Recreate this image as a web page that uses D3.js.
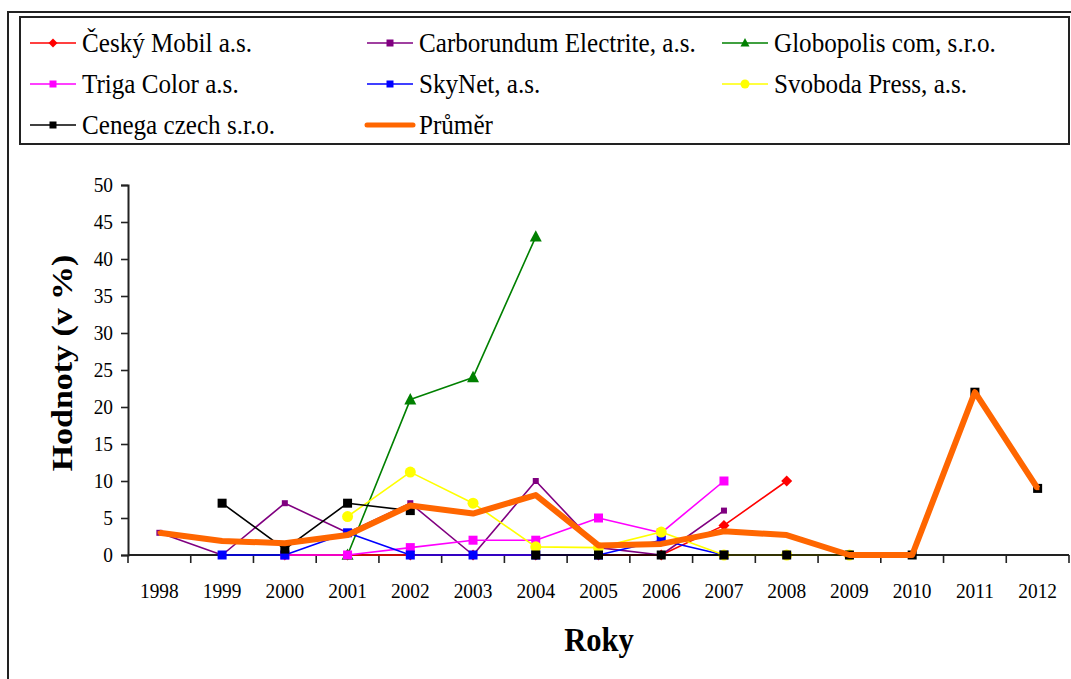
<!DOCTYPE html>
<html>
<head>
  <meta charset="UTF-8">
  <style>
    body { margin: 0; background: #fff; }
    svg { display: block; font-family: "Liberation Serif", "Times New Roman", serif; }
  </style>
</head>
<body>
<svg></svg>
<script src="https://d3js.org/d3.v7.min.js"></script>

<script>

let width = 1071, height = 679;

// data (null = no value that year)
let years = ["1998","1999","2000","2001","2002","2003","2004","2005","2006","2007","2008","2009","2010","2011","2012"];
let ceskyMobil  = [null,null,0,0,0,0,0,0,0,4,10,null,null,null,null];
let carborundum = [3,0,7,3,7,0,10,1,0,6,null,null,null,null,null];
let globopolis  = [null,null,null,0,21,24,43,null,null,null,null,null,null,null,null];
let triga       = [null,null,0,0,1,2,2,5,3,10,null,null,null,null,null];
let skynet      = [null,0,0,3,0,0,0,0,2,0,null,null,null,null,null];
let svoboda     = [null,null,null,5.2,11.2,7,1.1,1,3.1,0,0,0,null,null,null];
let cenega      = [null,7,0.8,7,6,null,0,0,0,0,0,0,0,22,9];
let prumer      = [3,1.9,1.6,2.7,6.7,5.6,8.1,1.3,1.5,3.2,2.7,0,0,22,9];
let yTicks = [0,5,10,15,20,25,30,35,40,45,50];

let series = [
  {name: "Český Mobil a.s.", values: ceskyMobil, color: "#ff0000", marker: "diamond", size: 11, width: 1.6},
  {name: "Carborundum Electrite, a.s.", values: carborundum, color: "#800080", marker: "square", size: 6, width: 1.6},
  {name: "Globopolis com, s.r.o.", values: globopolis, color: "#008000", marker: "triangle", size: 12, width: 1.6},
  {name: "Triga Color a.s.", values: triga, color: "#ff00ff", marker: "square", size: 9, width: 1.6},
  {name: "SkyNet, a.s.", values: skynet, color: "#0000ff", marker: "square", size: 9, width: 1.6},
  {name: "Svoboda Press, a.s.", values: svoboda, color: "#ffff00", marker: "circle", size: 11, width: 1.6},
  {name: "Cenega czech s.r.o.", values: cenega, color: "#000000", marker: "square", size: 9, width: 1.6},
  {name: "Průměr", values: prumer, color: "#ff6600", marker: "square", size: 3.5, width: 6}
];

let svg = d3.select("svg")
    .attr("width", width)
    .attr("height", height)
    .attr("viewBox", "0 0 " + width + " " + height);

// frames
svg.append("rect")
.attr("x", 8).attr("y", 12)
.attr("width", 1100).attr("height", 700)
.attr("fill", "none").attr("stroke", "#222").attr("stroke-width", 2);

svg.append("rect")
.attr("x", 20).attr("y", 17)
.attr("width", 1049).attr("height", 127)
.attr("fill", "none").attr("stroke", "#222").attr("stroke-width", 2);

let x = d3.scaleBand().domain(years).range([128, 1069]);
let y = d3.scaleLinear().domain([0, 50]).range([555, 185]);

// text helper: the reference is a bit squeezed horizontally
function label(g, tx, ty, txt, size, anchor, bold, sx) {
  return g.append("text")
  .attr("transform", "translate(" + tx + "," + ty + ") scale(" + (sx || 0.88) + ",1)")
  .attr("text-anchor", anchor)
  .attr("font-size", size + "px")
  .attr("font-weight", bold ? "bold" : "normal")
  .attr("fill", "#000")
  .text(txt);
}

// y axis
let yAxis = svg.append("g")
.attr("transform", "translate(128,0)")
.call(d3.axisLeft(y).tickValues(yTicks).tickSize(7).tickFormat(""));
yAxis.select(".domain").attr("stroke", "#222").attr("stroke-width", 2);
yAxis.selectAll(".tick line").attr("stroke", "#222").attr("stroke-width", 1.6);

yTicks.forEach(t => label(svg, 113, y(t) + 7, t, 22, "end"));

// x axis: ticks sit on the band boundaries
let xAxis = svg.append("g")
.attr("transform", "translate(0,555)");
xAxis.append("line")
.attr("x1", x.range()[0]).attr("x2", x.range()[1])
.attr("stroke", "#222").attr("stroke-width", 2);
let bounds = years.map(d => x(d)).concat([x.range()[1]]);
xAxis.selectAll(".tk")
.data(bounds)
.enter()
.append("line")
.attr("x1", d => d).attr("x2", d => d)
.attr("y1", 0).attr("y2", 8)
.attr("stroke", "#222").attr("stroke-width", 1.6);

years.forEach(yr => label(svg, x(yr) + x.bandwidth() / 2, 598, yr, 22, "middle"));

// axis titles
label(svg, 599, 651, "Roky", 34, "middle", true, 0.9);
svg.append("text")
.attr("transform", "translate(72,363) rotate(-90) scale(1.13,1)")
.attr("text-anchor", "middle")
.attr("font-size", "30px")
.attr("font-weight", "bold")
.text("Hodnoty (v %)");

// marker shapes
function markerPath(type, s) {
  if (type == "diamond") return "M0," + (-s/2) + "L" + (s/2) + ",0L0," + (s/2) + "L" + (-s/2) + ",0Z";
  if (type == "triangle") return "M0," + (-s*0.55) + "L" + (s/2) + "," + (s*0.4) + "L" + (-s/2) + "," + (s*0.4) + "Z";
  if (type == "circle") return d3.symbol(d3.symbolCircle, Math.PI * s * s / 4)();
  return "M" + (-s/2) + "," + (-s/2) + "h" + s + "v" + s + "h" + (-s) + "Z";
}

let line = d3.line()
.defined(d => d.v != null)
.x(d => x(d.year) + x.bandwidth() / 2)
.y(d => y(d.v));

let plot = svg.append("g").attr("id", "series");

series.forEach(s => {
  let pts = years.map((yr, i) => ({year: yr, v: s.values[i]}));
  let g = plot.append("g");
  g.append("path")
  .datum(pts)
  .attr("d", line)
  .attr("fill", "none")
  .attr("stroke", s.color)
  .attr("stroke-width", s.width)
  .attr("stroke-linejoin", "round");

  g.selectAll("path.mk")
  .data(pts.filter(d => d.v != null))
  .enter()
  .append("path")
  .attr("class", "mk")
  .attr("d", markerPath(s.marker, s.size))
  .attr("transform", d => "translate(" + (x(d.year) + x.bandwidth() / 2) + "," + y(d.v) + ")")
  .attr("fill", s.color);
});

// legend
let legendCols = [30, 367, 722];
let legendRows = [43, 84, 125];
let legend = svg.append("g").attr("id", "legend");

series.forEach((s, i) => {
  let lx = legendCols[i % 3], ly = legendRows[Math.floor(i / 3)];
  let g = legend.append("g");
  g.append("line")
  .attr("x1", lx).attr("x2", lx + 46)
  .attr("y1", ly).attr("y2", ly)
  .attr("stroke", s.color)
  .attr("stroke-width", s.name == "Průměr" ? 5 : 1.6)
  .attr("stroke-linecap", s.name == "Průměr" ? "round" : "butt");
  if (s.name != "Průměr") {
    g.append("path")
    .attr("d", markerPath(s.marker, s.marker == "square" ? 7 : 9))
    .attr("transform", "translate(" + (lx + 23) + "," + ly + ")")
    .attr("fill", s.color);
  }
  label(g, lx + 52, ly + 9, s.name, 27, "start", false, 0.93);
});

</script>

</body>
</html>
